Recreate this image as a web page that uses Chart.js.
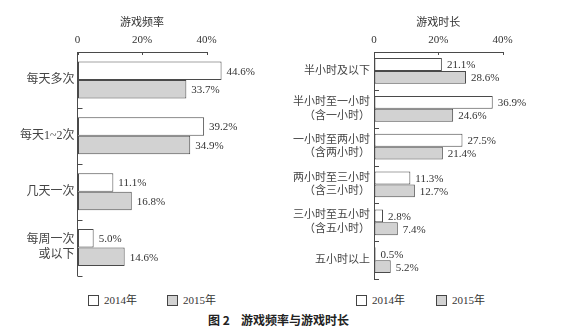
<!DOCTYPE html>
<html>
<head>
<meta charset="utf-8">
<script src="https://cdn.jsdelivr.net/npm/chart.js@4"></script>
<style>
  body { margin: 0; background: #fff; width: 566px; height: 334px; position: relative; overflow: hidden;
         font-family: 'Liberation Serif', 'Noto Sans CJK SC', serif; color: #333; }
  canvas { position: absolute; top: 0; }
  .lg { position: absolute; top: 293px; height: 14px; line-height: 14px; font-size: 11px; display: flex; align-items: center; }
  .lg i { display: inline-block; width: 9px; height: 9px; border: 1px solid #444; margin-right: 5px; }
  #cap { position: absolute; top: 313px; font: bold 12px 'Noto Sans CJK SC', sans-serif; color: #222; line-height: 14px; }
</style>
</head>
<body>
<canvas id="freq" width="283" height="290" style="left:0"></canvas>
<canvas id="dur" width="283" height="290" style="left:283px"></canvas>
<div id="cap"><span style="position:absolute;left:208px;white-space:nowrap">图 2</span><span style="position:absolute;left:241px;white-space:nowrap">游戏频率与游戏时长</span></div>

<script>
const freqLabels = ['每天多次', '每天1~2次', '几天一次', ['每周一次', '或以下']];
const freq2014 = [44.6, 39.2, 11.1, 5.0];
const freq2015 = [33.7, 34.9, 16.8, 14.6];

const timeLabels = ['半小时及以下', ['半小时至一小时', '（含一小时）'], ['一小时至两小时', '（含两小时）'],
                    ['两小时至三小时', '（含三小时）'], ['三小时至五小时', '（含五小时）'], '五小时以上'];
const time2014 = [21.1, 36.9, 27.5, 11.3, 2.8, 0.5];
const time2015 = [28.6, 24.6, 21.4, 12.7, 7.4, 5.2];

const years = ['2014年', '2015年'];
const fills = ['#ffffff', '#d2d2d2'];
const lineColor = '#4a4a4a';
const serif = "'Liberation Serif', 'Noto Sans CJK SC', serif";

// percentage written just past the end of each bar
const valueLabels = {
  id: 'valueLabels',
  afterDatasetsDraw(chart) {
    const ctx = chart.ctx;
    ctx.save();
    ctx.font = '11px ' + serif;
    ctx.fillStyle = '#333';
    ctx.textBaseline = 'middle';
    chart.data.datasets.forEach((ds, i) => {
      chart.getDatasetMeta(i).data.forEach((bar, j) => {
        ctx.fillText(ds.data[j].toFixed(1) + '%', bar.x + 5, bar.y + 1);
      });
    });
    ctx.restore();
  }
};

// short tick marks pointing into the plot: down from the top axis, right from the category axis
const innerTicks = {
  id: 'innerTicks',
  afterDraw(chart) {
    const ctx = chart.ctx;
    const x = chart.scales.x, y = chart.scales.y;
    const area = chart.chartArea;
    ctx.save();
    ctx.strokeStyle = lineColor;
    ctx.lineWidth = 1;
    ctx.beginPath();
    x.ticks.forEach(t => {
      const px = Math.round(x.getPixelForValue(t.value)) + 0.5;
      ctx.moveTo(px, area.top);
      ctx.lineTo(px, area.top + 3);
    });
    const n = chart.data.labels.length;
    for (let i = 1; i <= n; i++) {
      const py = Math.round(y.getPixelForValue(i - 0.5)) + 0.5;
      ctx.moveTo(area.left, py);
      ctx.lineTo(area.left + 5, py);
    }
    ctx.stroke();
    ctx.restore();
  }
};

function drawBars(id, title, labels, d14, d15, o) {
  new Chart(document.getElementById(id), {
    type: 'bar',
    data: {
      labels: labels,
      datasets: [d14, d15].map((d, i) => ({
        label: years[i],
        data: d,
        backgroundColor: fills[i],
        borderColor: lineColor,
        borderWidth: 1,
        borderSkipped: false,
        categoryPercentage: o.cat,
        barPercentage: 1,
        clip: false
      }))
    },
    options: {
      indexAxis: 'y',
      responsive: false,
      animation: false,
      layout: { padding: { left: 0, top: 0, right: o.right, bottom: o.bottom } },
      plugins: { legend: { display: false }, tooltip: { enabled: false } },
      scales: {
        x: {
          position: 'top',
          min: 0, max: 40,
          ticks: { stepSize: 20, padding: 5, color: '#333', font: { family: serif, size: 11 },
                   callback: v => v ? v + '%' : '0' },
          grid: { drawOnChartArea: false, drawTicks: false },
          border: { color: lineColor },
          title: { display: true, text: title, color: '#333', padding: { top: 17, bottom: 0 },
                   font: { family: serif, size: 11 } },
          afterFit: s => { s.height = o.top; }
        },
        y: {
          ticks: { padding: o.pad, color: '#444', font: { family: serif, size: o.fs, lineHeight: 1.25 } },
          grid: { drawOnChartArea: false, drawTicks: false },
          border: { color: lineColor },
          afterFit: s => { s.width = o.left; }
        }
      }
    },
    plugins: [valueLabels, innerTicks]
  });
}

drawBars('freq', '游戏频率', freqLabels, freq2014, freq2015,
  { left: 77.5, right: 76.3, top: 52, bottom: 14.5, cat: 0.66, pad: 3, fs: 12 });
drawBars('dur', '游戏时长', timeLabels, time2014, time2015,
  { left: 91, right: 63.3, top: 52, bottom: 10, cat: 0.68, pad: 4, fs: 11 });

// legends under each chart
[[88, 167], [356, 436]].forEach(xs => {
  xs.forEach((x, i) => {
    const el = document.createElement('div');
    el.className = 'lg';
    el.style.left = x + 'px';
    el.innerHTML = '<i style="background:' + fills[i] + '"></i>' + years[i];
    document.body.appendChild(el);
  });
});
</script>
</body>
</html>
